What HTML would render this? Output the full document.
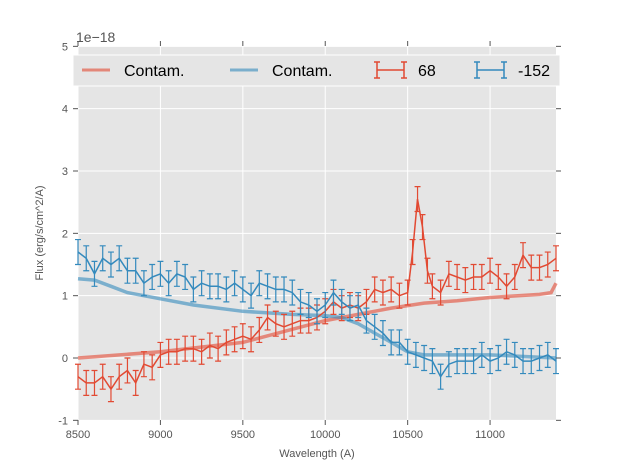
<!DOCTYPE html>
<html><head><meta charset="utf-8"><style>
body{margin:0;background:#fff;width:617px;height:467px;overflow:hidden}
svg text{font-family:"Liberation Sans",sans-serif}
</style></head><body>
<svg id="chart" width="617" height="467" xmlns="http://www.w3.org/2000/svg">
<rect x="78" y="46" width="478" height="374" fill="#e5e5e5"/>
<g id="grid"></g><g id="series"></g><g id="axes"></g>
<text x="76" y="42" font-size="14" fill="#555">1e−18</text>
<text x="317" y="457" font-size="11" fill="#555" text-anchor="middle">Wavelength (A)</text>
<text transform="translate(43,233) rotate(-90)" font-size="11" fill="#555" text-anchor="middle">Flux (erg/s/cm^2/A)</text>
<g>
<rect x="73" y="55" width="487" height="31" fill="#e5e5e5" stroke="#fff"/>
<g><line x1="82" y1="70" x2="110" y2="70" stroke="#E24A33" stroke-width="3" opacity="0.6"/><text x="124" y="76" font-size="16" fill="#000">Contam.</text></g>
<g><line x1="230" y1="70" x2="258" y2="70" stroke="#348ABD" stroke-width="3" opacity="0.6"/><text x="272" y="76" font-size="16" fill="#000">Contam.</text></g>
<g><path d="M377 70H404M377 62V78M404 62V78M374 62H380M374 78H380M401 62H407M401 78H407" stroke="#E24A33" stroke-width="1.5" fill="none"/><text x="418" y="76" font-size="16" fill="#000">68</text></g>
<g><path d="M477 70H504M477 62V78M504 62V78M474 62H480M474 78H480M501 62H507M501 78H507" stroke="#348ABD" stroke-width="1.5" fill="none"/><text x="518" y="76" font-size="16" fill="#000">-152</text></g>
</g>
</svg>
<script>
const xTicks=[8500,9000,9500,10000,10500,11000];
const yTicks=[-1,0,1,2,3,4,5];
const redWave=[8500,8550,8600,8650,8700,8750,8800,8850,8900,8950,9000,9050,9100,9150,9200,9250,9300,9350,9400,9450,9500,9550,9600,9650,9700,9750,9800,9850,9900,9950,10000,10050,10100,10150,10200,10250,10300,10350,10400,10450,10500,10530,10560,10590,10620,10650,10700,10750,10800,10850,10900,10950,11000,11050,11100,11150,11200,11250,11300,11350,11400];
const redFlux=[-0.3,-0.4,-0.4,-0.3,-0.5,-0.3,-0.2,-0.4,-0.1,-0.15,0.05,0.1,0.1,0.15,0.15,0.1,0.2,0.15,0.25,0.3,0.35,0.3,0.45,0.65,0.55,0.5,0.55,0.6,0.6,0.65,0.75,0.9,0.8,0.85,0.8,0.9,1.1,1.05,1.1,1.0,1.05,1.7,2.55,2.1,1.4,1.15,1.05,1.35,1.3,1.25,1.3,1.3,1.4,1.3,1.15,1.3,1.65,1.45,1.45,1.5,1.6];
const blueWave=[8500,8550,8600,8650,8700,8750,8800,8850,8900,8950,9000,9050,9100,9150,9200,9250,9300,9350,9400,9450,9500,9550,9600,9650,9700,9750,9800,9850,9900,9950,10000,10050,10100,10150,10200,10250,10300,10350,10400,10450,10500,10550,10600,10650,10700,10750,10800,10850,10900,10950,11000,11050,11100,11150,11200,11250,11300,11350,11400];
const blueFlux=[1.7,1.6,1.35,1.6,1.5,1.6,1.4,1.4,1.2,1.3,1.35,1.2,1.35,1.3,1.1,1.2,1.15,1.15,1.1,1.2,1.1,1.0,1.2,1.15,1.1,1.1,1.05,0.9,0.85,0.75,0.85,1.05,0.9,0.8,0.85,0.6,0.5,0.4,0.25,0.25,0.1,0.05,0.0,-0.05,-0.3,-0.1,-0.05,-0.05,-0.05,0.05,-0.05,0.0,0.1,0.05,-0.05,-0.05,0.0,0.05,-0.05];
const errSize=0.2;
const cRedWave=[8500,9000,9500,10000,10200,10400,10600,10800,11000,11300,11370,11400];
const cRedFlux=[0.0,0.1,0.25,0.6,0.7,0.8,0.88,0.92,0.97,1.02,1.05,1.2];
const cBlueWave=[8500,8600,8700,8800,9000,9200,9500,9800,10000,10100,10200,10300,10400,10500,10600,10800,11000,11400];
const cBlueFlux=[1.27,1.25,1.15,1.05,0.95,0.85,0.75,0.7,0.68,0.65,0.55,0.4,0.25,0.1,0.05,0.05,0.05,0.0];
const X=v=>78+(v-8500)/2900*478;
const Y=v=>358-v*62.33;
const NS="http://www.w3.org/2000/svg";
function mk(p,t,a){const e=document.createElementNS(NS,t);for(const k in a)e.setAttribute(k,a[k]);p.appendChild(e);return e;}
const grid=document.getElementById('grid'),axes=document.getElementById('axes'),ser=document.getElementById('series');
xTicks.forEach(t=>{
 const l=mk(grid,'line',{x1:X(t),x2:X(t),y1:46,y2:420,stroke:'#fff','stroke-width':1});
 
 
 const tk=mk(axes,'line',{x1:X(t),x2:X(t),y1:420,y2:425,stroke:'#555'});
 
 
 const tk2=mk(axes,'line',{x1:X(t),x2:X(t),y1:41,y2:46,stroke:'#555'});
 
 
 const tx=mk(axes,'text',{x:X(t),y:438,'font-size':11,fill:'#555','text-anchor':'middle'});tx.textContent=t;
 
 
});
yTicks.forEach(t=>{
 const l=mk(grid,'line',{x1:78,x2:556,y1:Y(t),y2:Y(t),stroke:'#fff','stroke-width':1});
 
 
 const tk=mk(axes,'line',{x1:73,x2:78,y1:Y(t),y2:Y(t),stroke:'#555'});
 
 
 const tk2=mk(axes,'line',{x1:556,x2:561,y1:Y(t),y2:Y(t),stroke:'#555'});
 
 
 const tx=mk(axes,'text',{x:68,y:Y(t)+4,'font-size':11,fill:'#555','text-anchor':'end'});tx.textContent=t;
 
 
});
function pts(w,f){return w.map((v,i)=>X(v).toFixed(1)+','+Y(f[i]).toFixed(1)).join(' ');}
const c1=mk(ser,'polyline',{points:pts(cRedWave,cRedFlux),fill:'none',stroke:'#E24A33','stroke-width':3.5,opacity:0.6});


const c2=mk(ser,'polyline',{points:pts(cBlueWave,cBlueFlux),fill:'none',stroke:'#348ABD','stroke-width':3.5,opacity:0.6});


function errSeries(w,f,col,name){
 const g=mk(ser,'g',{});
 
 
 let d='';
 w.forEach((v,i)=>{const x=X(v),y1=Y(f[i]+errSize),y2=Y(f[i]-errSize);
  d+=`M${x} ${y1}V${y2}M${x-3} ${y1}H${x+3}M${x-3} ${y2}H${x+3}`;});
 mk(g,'path',{d:d,stroke:col,'stroke-width':1.2,fill:'none'});
 mk(g,'polyline',{points:pts(w,f),fill:'none',stroke:col,'stroke-width':1.5});
}
errSeries(redWave,redFlux,'#E24A33','series-68');
errSeries(blueWave,blueFlux,'#348ABD','series-152');
</script>
</body></html>
